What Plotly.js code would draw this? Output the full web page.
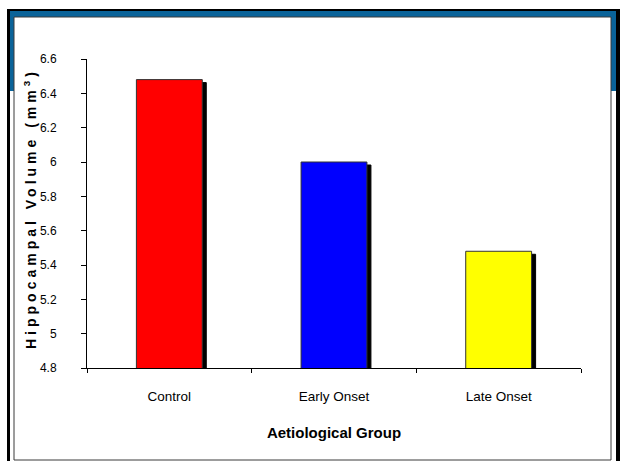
<!DOCTYPE html>
<html>
<head>
<meta charset="utf-8">
<script src="https://cdn.plot.ly/plotly-3.0.1.min.js"></script>
<style>
  html, body { margin: 0; padding: 0; background: #fff; }
  #chart { width: 622px; height: 461px; }
  /* hard offset shadow behind each bar */
  #chart .trace.bars .point path { filter: drop-shadow(4px 3px 0 #000); }
  /* spaced lettering of the vertical title */
  #chart .annotation-text { letter-spacing: 4px; }
</style>
</head>
<body>
<div id="chart"></div>
<script>
// Mean hippocampal volume per aetiological group
const groups = ['Control', 'Early Onset', 'Late Onset'];
const volumes = [6.48, 6.00, 5.48];
const barColors = ['#ff0000', '#0000ff', '#ffff00'];
const yTickVals = [4.8, 5.0, 5.2, 5.4, 5.6, 5.8, 6.0, 6.2, 6.4, 6.6];
const yTickText = ['4.8', '5', '5.2', '5.4', '5.6', '5.8', '6', '6.2', '6.4', '6.6'];
const xTitle = 'Aetiological Group';
const yTitle = 'Hippocampal Volume (mm<sup>3</sup>)';

// page geometry (pixels) used for the framed slide border
const W = 622, H = 461;
const M = { l: 87, r: 41, t: 59, b: 93 };
const pw = W - M.l - M.r, ph = H - M.t - M.b;
const fx = x => (x - M.l) / pw;
const fy = y => (H - M.b - y) / ph;
function rect(x0, y0, x1, y1, fill, line) {
  return {
    type: 'rect', xref: 'paper', yref: 'paper', layer: 'below',
    x0: fx(x0), x1: fx(x1), y0: fy(y1), y1: fy(y0),
    fillcolor: fill,
    line: line ? { color: line, width: 1 } : { width: 0 }
  };
}

const frame = [
  rect(7, 9, 620, 470, '#000000'),
  rect(10, 11, 616, 470, '#ffffff'),
  rect(10, 11, 616, 91, '#0a6399'),
  rect(14, 17, 611, 460, '#ffffff', '#3a3a3a')
];

const font = 'Arial, "Liberation Sans", sans-serif';

const data = [{
  type: 'bar',
  x: groups,
  y: volumes,
  width: 0.4,
  marker: { color: barColors, line: { color: '#333333', width: 1 } },
  hoverinfo: 'x+y'
}];

const layout = {
  width: W, height: H,
  margin: M,
  paper_bgcolor: '#ffffff',
  plot_bgcolor: 'rgba(0,0,0,0)',
  showlegend: false,
  font: { family: font, color: '#000000', size: 12 },
  shapes: frame,
  annotations: [{
    text: yTitle, textangle: -90,
    xref: 'paper', yref: 'paper', x: fx(30), y: fy(209),
    xanchor: 'center', yanchor: 'middle', showarrow: false,
    font: { family: font, size: 14, color: '#000', weight: 'bold' }
  }],
  xaxis: {
    type: 'category',
    tickson: 'boundaries',
    ticks: 'outside', ticklen: 4, tickcolor: '#000', tickwidth: 1,
    showline: true, linecolor: '#000', linewidth: 1,
    showgrid: false, zeroline: false,
    tickfont: { family: font, size: 13.5, color: '#000' },
    ticklabelstandoff: 16,
    title: { text: xTitle, font: { family: font, size: 15, color: '#000', weight: 'bold' }, standoff: 24 }
  },
  yaxis: {
    range: [4.8, 6.6],
    tickmode: 'array', tickvals: yTickVals, ticktext: yTickText,
    ticks: 'outside', ticklen: 5, tickcolor: '#000', tickwidth: 1,
    showline: true, linecolor: '#000', linewidth: 1,
    showgrid: false, zeroline: false,
    tickfont: { family: font, size: 12, color: '#000' },
    ticklabelstandoff: 22
  }
};

Plotly.newPlot('chart', data, layout, { staticPlot: true, displayModeBar: false });
</script>
</body>
</html>
